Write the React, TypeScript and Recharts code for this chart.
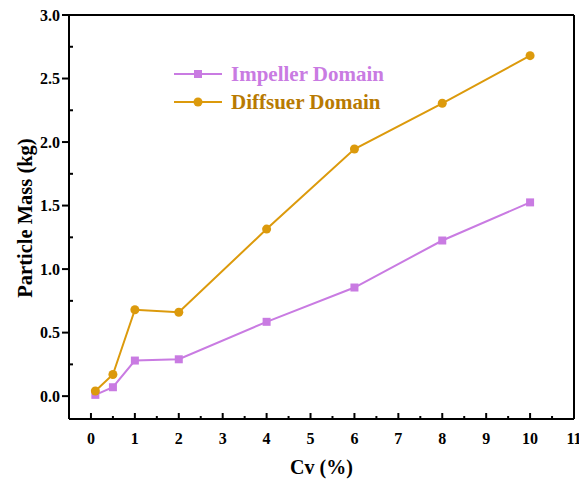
import {
  Line,
  LineChart,
  ReferenceLine,
  XAxis,
  YAxis,
} from "recharts";

// Solid volume concentration (%)
const cvValues = [0.1, 0.5, 1, 2, 4, 6, 8, 10];
// Particle mass (kg) in each domain
const impellerMass = [0.01, 0.07, 0.28, 0.29, 0.585, 0.855, 1.225, 1.525];
const diffuserMass = [0.04, 0.17, 0.68, 0.66, 1.315, 1.945, 2.305, 2.68];

const xTicks = [
  0, 0.5, 1, 1.5, 2, 2.5, 3, 3.5, 4, 4.5, 5, 5.5, 6, 6.5, 7, 7.5, 8, 8.5, 9,
  9.5, 10, 10.5, 11,
];
const yTicks = [
  0, 0.25, 0.5, 0.75, 1, 1.25, 1.5, 1.75, 2, 2.25, 2.5, 2.75, 3,
];

const IMPELLER_COLOR = "#c97be2";
const DIFFUSER_COLOR = "#dc9a0c";
const DIFFUSER_TEXT = "#b87a02";
const FONT = '"Liberation Serif", "Times New Roman", serif';

const data = cvValues.map((cv, i) => ({
  cv,
  impeller: impellerMass[i],
  diffuser: diffuserMass[i],
}));

function XTick(props: any) {
  const { x, y, payload } = props;
  const v = payload.value as number;
  const major = Number.isInteger(v);
  return (
    <g>
      <line x1={x} x2={x} y1={y} y2={y - (major ? 6 : 3)} stroke="#000" strokeWidth={2} />
      {major && (
        <text
          x={x}
          y={y + 19}
          textAnchor="middle"
          dominantBaseline="central"
          fontFamily={FONT}
          fontWeight="bold"
          fontSize={16}
          fill="#000"
        >
          {v}
        </text>
      )}
    </g>
  );
}

function YTick(props: any) {
  const { x, y, payload } = props;
  const v = payload.value as number;
  const major = Math.abs(v * 2 - Math.round(v * 2)) < 1e-6;
  if (!major) {
    return <line x1={x} x2={x + 4} y1={y} y2={y} stroke="#000" strokeWidth={2} />;
  }
  return (
    <g>
      <line x1={x - 7} x2={x} y1={y} y2={y} stroke="#000" strokeWidth={2} />
      <text
        x={x - 9}
        y={y}
        textAnchor="end"
        dominantBaseline="central"
        fontFamily={FONT}
        fontWeight="bold"
        fontSize={16}
        fill="#000"
      >
        {v.toFixed(1)}
      </text>
    </g>
  );
}

function SquareDot(props: any) {
  const { cx, cy } = props;
  if (cx == null || cy == null) return null;
  return <rect x={cx - 4} y={cy - 4} width={8} height={8} fill={IMPELLER_COLOR} />;
}

function CircleDot(props: any) {
  const { cx, cy } = props;
  if (cx == null || cy == null) return null;
  return <circle cx={cx} cy={cy} r={4.5} fill={DIFFUSER_COLOR} />;
}

const legendRows = [
  { name: "Impeller Domain", color: IMPELLER_COLOR, text: IMPELLER_COLOR, shape: "square" },
  { name: "Diffsuer Domain", color: DIFFUSER_COLOR, text: DIFFUSER_TEXT, shape: "circle" },
];

function LegendBox() {
  return (
    <div style={{ position: "absolute", left: 173, top: 60 }}>
      {legendRows.map((r) => (
        <div key={r.name} style={{ display: "flex", alignItems: "center", height: 28 }}>
          <svg width={50} height={14}>
            <line x1={1} x2={49} y1={7} y2={7} stroke={r.color} strokeWidth={2} />
            {r.shape === "square" ? (
              <rect x={21} y={3} width={8} height={8} fill={r.color} />
            ) : (
              <circle cx={25} cy={7} r={4.5} fill={r.color} />
            )}
          </svg>
          <span
            style={{
              marginLeft: 8,
              fontFamily: FONT,
              fontWeight: "bold",
              fontSize: 21,
              color: r.text,
              lineHeight: "28px",
              whiteSpace: "nowrap",
            }}
          >
            {r.name}
          </span>
        </div>
      ))}
    </div>
  );
}

export default function App() {
  return (
    <div style={{ position: "absolute", left: 0, top: 0, width: 579, height: 486, background: "#fff" }}>
      <LineChart
        width={579}
        height={486}
        data={data}
        margin={{ top: 15, right: 5, left: 0, bottom: 0 }}
      >
        <XAxis
          dataKey="cv"
          type="number"
          domain={[-0.5, 11]}
          ticks={xTicks}
          interval={0}
          allowDataOverflow
          height={67}
          tickSize={0}
          tickMargin={0}
          tickLine={false}
          axisLine={{ stroke: "#000", strokeWidth: 2 }}
          tick={<XTick />}
          label={(p: any) => {
            const vb = p.viewBox;
            return (
              <text
                x={vb.x + vb.width / 2}
                y={vb.y + 48}
                textAnchor="middle"
                dominantBaseline="central"
                fontFamily={FONT}
                fontWeight="bold"
                fontSize={20}
                fill="#000"
              >
                Cv (%)
              </text>
            );
          }}
        />
        <YAxis
          type="number"
          domain={[-0.18, 3]}
          ticks={yTicks}
          interval={0}
          allowDataOverflow
          width={69}
          tickSize={0}
          tickMargin={0}
          tickLine={false}
          axisLine={{ stroke: "#000", strokeWidth: 2 }}
          tick={<YTick />}
          label={(p: any) => {
            const vb = p.viewBox;
            const cx = 25;
            const cy = vb.y + vb.height / 2 + 1;
            return (
              <text
                x={cx}
                y={cy}
                transform={`rotate(-90 ${cx} ${cy})`}
                textAnchor="middle"
                dominantBaseline="central"
                fontFamily={FONT}
                fontWeight="bold"
                fontSize={20.5}
                fill="#000"
              >
                Particle Mass (kg)
              </text>
            );
          }}
        />
        <ReferenceLine y={3} stroke="#000" strokeWidth={2} />
        <ReferenceLine x={11} stroke="#000" strokeWidth={2} />
        <Line
          type="linear"
          dataKey="impeller"
          name="Impeller Domain"
          stroke={IMPELLER_COLOR}
          strokeWidth={2}
          dot={<SquareDot />}
          activeDot={false}
          isAnimationActive={false}
        />
        <Line
          type="linear"
          dataKey="diffuser"
          name="Diffsuer Domain"
          stroke={DIFFUSER_COLOR}
          strokeWidth={2}
          dot={<CircleDot />}
          activeDot={false}
          isAnimationActive={false}
        />
      </LineChart>
      <LegendBox />
    </div>
  );
}
